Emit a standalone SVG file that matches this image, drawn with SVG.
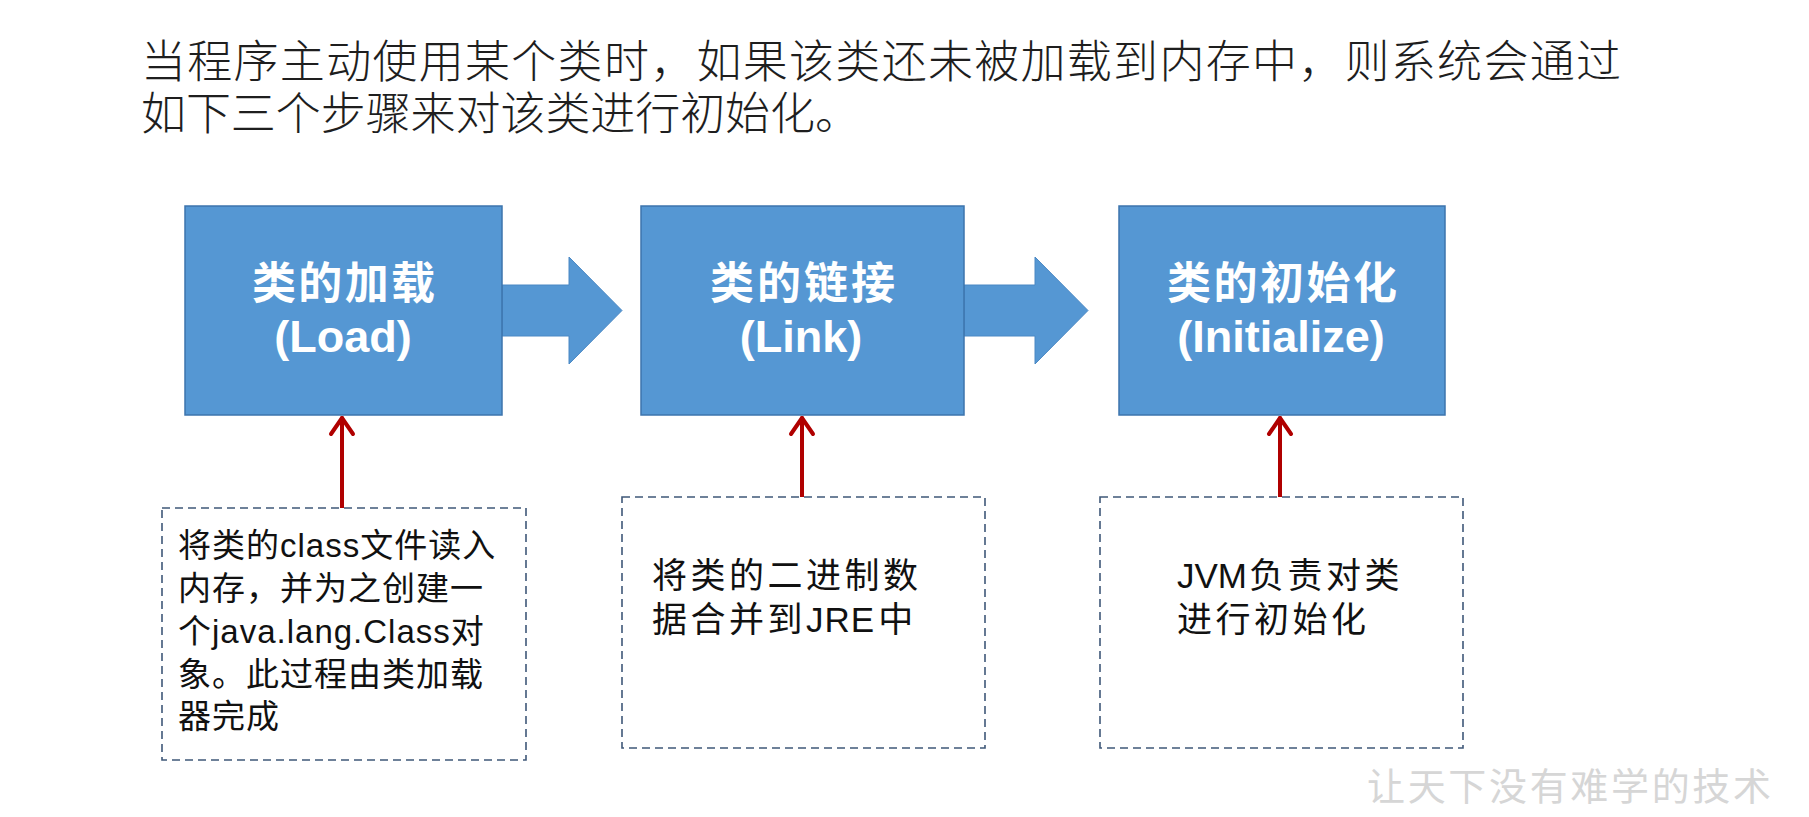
<svg xmlns="http://www.w3.org/2000/svg" width="1809" height="817" viewBox="0 0 1809 817">
<style>
.title{font-family:"Liberation Sans","Noto Sans CJK SC",sans-serif;font-size:45px;fill:#1e1e1e;font-weight:300}
.step{fill:#5597d3;stroke:#3d74ad;stroke-width:1.5}
.big{fill:#5597d3;stroke:#4a88c4;stroke-width:1}
.lbl{font-family:"Liberation Sans","Noto Sans CJK SC",sans-serif;font-size:45px;font-weight:bold;fill:#ffffff;text-anchor:middle}
.lblc{font-family:"Noto Sans CJK SC",sans-serif;font-size:44px;font-weight:bold;fill:#ffffff;text-anchor:middle}
.note{fill:#ffffff;stroke:#3f5878;stroke-width:1.6;stroke-dasharray:8 5}
.desc1{font-family:"Liberation Sans","Noto Sans CJK SC",sans-serif;font-size:33px;fill:#111111;letter-spacing:1px}
.desc{font-family:"Liberation Sans","Noto Sans CJK SC",sans-serif;font-size:35px;fill:#111111}
.sp{letter-spacing:3.5px}
.red{stroke:#b00000;stroke-width:4;fill:none}
.wm{font-family:"Noto Sans CJK SC",sans-serif;font-size:38px;fill:#d6d6d6}
</style>
<rect width="1809" height="817" fill="#ffffff"/>
<g id="title">
<text class="title" x="141" y="78" textLength="1480" lengthAdjust="spacing">当程序主动使用某个类时，如果该类还未被加载到内存中，则系统会通过</text>
<text class="title" x="141" y="130" textLength="719" lengthAdjust="spacing">如下三个步骤来对该类进行初始化。</text>
</g>
<g id="connectors">
<polygon class="big" points="502,285 569,285 569,257 622,310.5 569,364 569,336 502,336"/>
<polygon class="big" points="964,285 1035,285 1035,257 1088,310.5 1035,364 1035,336 964,336"/>
<g class="red" stroke-linecap="round" stroke-linejoin="round">
<line x1="342" y1="508" x2="342" y2="418"/>
<polyline points="331,434 342,418 353,434"/>
<line x1="802" y1="497" x2="802" y2="418"/>
<polyline points="791,434 802,418 813,434"/>
<line x1="1280" y1="497" x2="1280" y2="418"/>
<polyline points="1269,434 1280,418 1291,434"/>
</g>
</g>
<g id="load">
<rect class="step" x="185" y="206" width="317" height="209"/>
<text class="lblc" x="343.5" y="299" textLength="183" lengthAdjust="spacing">类的加载</text>
<text class="lbl" x="343" y="352">(Load)</text>
</g>
<g id="link">
<rect class="step" x="641" y="206" width="323" height="209"/>
<text class="lblc" x="802.5" y="299" textLength="185" lengthAdjust="spacing">类的链接</text>
<text class="lbl" x="801" y="352">(Link)</text>
</g>
<g id="init">
<rect class="step" x="1119" y="206" width="326" height="209"/>
<text class="lblc" x="1282" y="299" textLength="230" lengthAdjust="spacing">类的初始化</text>
<text class="lbl" x="1281" y="352">(Initialize)</text>
</g>
<g id="note-load">
<rect class="note" x="162" y="508" width="364" height="252"/>
<text class="desc1" x="178" y="557">将类的class文件读入</text>
<text class="desc1" x="178" y="600">内存，并为之创建一</text>
<text class="desc1" x="178" y="643">个java.lang.Class对</text>
<text class="desc1" x="178" y="686">象。此过程由类加载</text>
<text class="desc1" x="178" y="728">器完成</text>
</g>
<g id="note-link">
<rect class="note" x="622" y="497" width="363" height="251"/>
<text class="desc" x="652" y="588"><tspan class="sp">将类的二进制数</tspan></text>
<text class="desc" x="652" y="632"><tspan class="sp">据合并到</tspan><tspan letter-spacing="1px">JRE</tspan><tspan dx="3">中</tspan></text>
</g>
<g id="note-init">
<rect class="note" x="1100" y="497" width="363" height="251"/>
<text class="desc" x="1177" y="588">JVM<tspan class="sp" dx="2">负责对类</tspan></text>
<text class="desc" x="1177" y="632"><tspan class="sp">进行初始化</tspan></text>
</g>
<g id="watermark">
<text class="wm" x="1367" y="800" textLength="404" lengthAdjust="spacing">让天下没有难学的技术</text>
</g>
</svg>
